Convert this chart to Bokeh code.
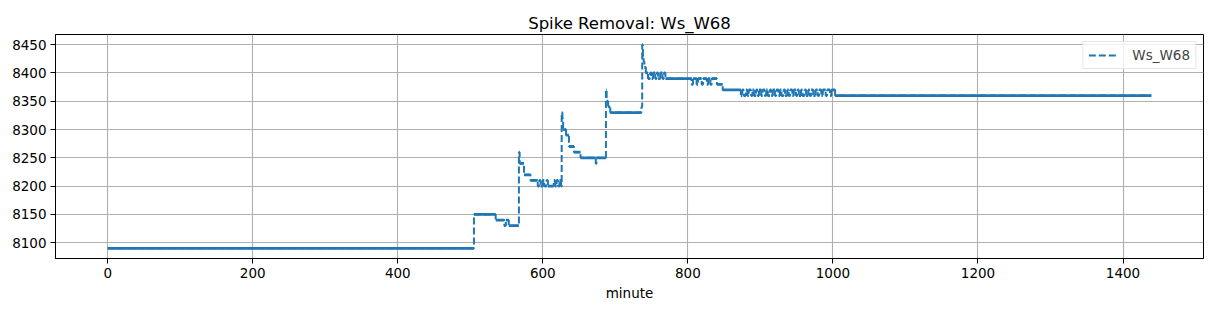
import numpy as np
from bokeh.plotting import figure
from bokeh.models import Range1d, FixedTicker, Legend, LegendItem, ColumnDataSource
from bokeh.embed import file_html
from bokeh.resources import INLINE

# ---- data: step changes of Ws_W68 ----
change_minute = [
    0, 505, 535, 547, 549, 553, 567, 568, 574, 583, 593, 595, 597, 600, 602, 605, 607,
    615, 617, 619, 621, 623, 625, 626, 627, 628, 632, 636, 643, 652, 673, 674,
    687, 688, 690, 693, 736, 737, 738, 739, 740, 742, 745, 748, 750, 752, 755, 757,
    759, 762, 765, 767, 769, 805, 807, 812, 814, 819, 821, 826, 828, 831, 833, 840,
    848, 873, 875, 877, 880, 882, 884, 887, 889, 891, 894, 896, 898, 901, 903, 906,
    908, 910, 913, 915, 917, 920, 922, 925, 927, 929, 932, 934, 937, 939, 941, 944,
    946, 949, 951, 953, 956, 958, 961, 963, 966, 968, 970, 973, 976, 979, 981, 984,
    986, 990, 992, 996, 998, 1003, 1439,
]
change_value = [
    8090, 8150, 8140, 8130, 8140, 8130, 8260, 8240, 8220, 8210, 8200, 8210, 8200, 8210, 8200, 8210, 8200,
    8210, 8200, 8210, 8200, 8210, 8200, 8330, 8320, 8300, 8290, 8270, 8260, 8250, 8240, 8250,
    8370, 8350, 8340, 8330, 8340, 8450, 8430, 8420, 8410, 8400, 8390, 8400, 8390, 8400, 8390, 8400,
    8390, 8400, 8390, 8400, 8390, 8380, 8390, 8380, 8390, 8380, 8390, 8380, 8390, 8380, 8390, 8380,
    8370, 8360, 8370, 8360, 8370, 8360, 8370, 8360, 8370, 8360, 8370, 8360, 8370, 8360, 8370, 8360,
    8370, 8360, 8370, 8360, 8370, 8360, 8370, 8360, 8370, 8360, 8370, 8360, 8370, 8360, 8370, 8360,
    8370, 8360, 8370, 8360, 8370, 8360, 8370, 8360, 8370, 8360, 8370, 8360, 8370, 8360, 8370, 8360,
    8370, 8360, 8370, 8360, 8370, 8360, 8360,
]
series_name = "Ws_W68"
x_ticks = [0, 200, 400, 600, 800, 1000, 1200, 1400]
y_ticks = [8100, 8150, 8200, 8250, 8300, 8350, 8400, 8450]

FONT = "DejaVu Sans"
BLUE = "#1f77b4"

xs = np.array(change_minute, dtype=float)
ys = np.array(change_value, dtype=float)
xpad = (xs.max() - xs.min()) * 0.05
ypad = (ys.max() - ys.min()) * 0.05

p = figure(width=1211, height=311, output_backend="svg", toolbar_location=None,
           x_range=Range1d(xs.min() - xpad, xs.max() + xpad),
           y_range=Range1d(ys.min() - ypad, ys.max() + ypad),
           min_border_left=55, min_border_right=8, min_border_top=34, min_border_bottom=53)

p.title.text = "Spike Removal: " + series_name
p.title.align = "center"
p.title.offset = -23
p.title.text_font = FONT
p.title.text_font_size = "16.5px"
p.title.text_font_style = "normal"
p.title.text_color = "black"
p.title.standoff = 4

p.outline_line_color = "black"
p.outline_line_width = 1
p.outline_line_alpha = 1

for ax in (p.xaxis[0], p.yaxis[0]):
    ax.axis_line_color = "black"
    ax.major_tick_line_color = "black"
    ax.major_tick_out = 5
    ax.major_tick_in = 0
    ax.minor_tick_line_color = None
    ax.major_label_text_font = FONT
    ax.major_label_text_font_size = "13.5px"
    ax.major_label_text_color = "black"
    ax.axis_label_text_font = FONT
    ax.axis_label_text_font_size = "13.5px"
    ax.axis_label_text_font_style = "normal"
    ax.axis_label_text_color = "black"

p.xaxis.ticker = FixedTicker(ticks=x_ticks)
p.yaxis.ticker = FixedTicker(ticks=y_ticks)
p.xaxis.axis_label = "minute"
p.xaxis.axis_label_standoff = 4
p.xaxis.major_label_standoff = 4
p.yaxis.major_label_standoff = 4

p.grid.grid_line_color = "#b0b0b0"
p.grid.grid_line_width = 1.1
p.xgrid.ticker = FixedTicker(ticks=x_ticks)
p.ygrid.ticker = FixedTicker(ticks=y_ticks)

# horizontal runs (appear solid in the reference)
seg = ColumnDataSource(dict(x0=xs[:-1], x1=xs[1:], y=ys[:-1]))
p.segment(x0="x0", y0="y", x1="x1", y1="y", source=seg, line_color=BLUE, line_width=2.8)

# dashed step line
r = p.step(xs, ys, mode="after", line_color=BLUE, line_width=2, line_dash="7 3")

legend = Legend(items=[LegendItem(label=series_name, renderers=[r])], location="top_right")
legend.label_text_font = FONT
legend.label_text_font_size = "13.5px"
legend.border_line_color = "#d0d0d0"
legend.border_line_width = 1
legend.background_fill_alpha = 0.8
legend.glyph_width = 28
legend.glyph_height = 14
legend.padding = 5
legend.margin = 7
legend.spacing = 0
legend.label_standoff = 16
legend.label_height = 15
p.add_layout(legend)

open("out.html", "w").write(file_html(p, INLINE))
